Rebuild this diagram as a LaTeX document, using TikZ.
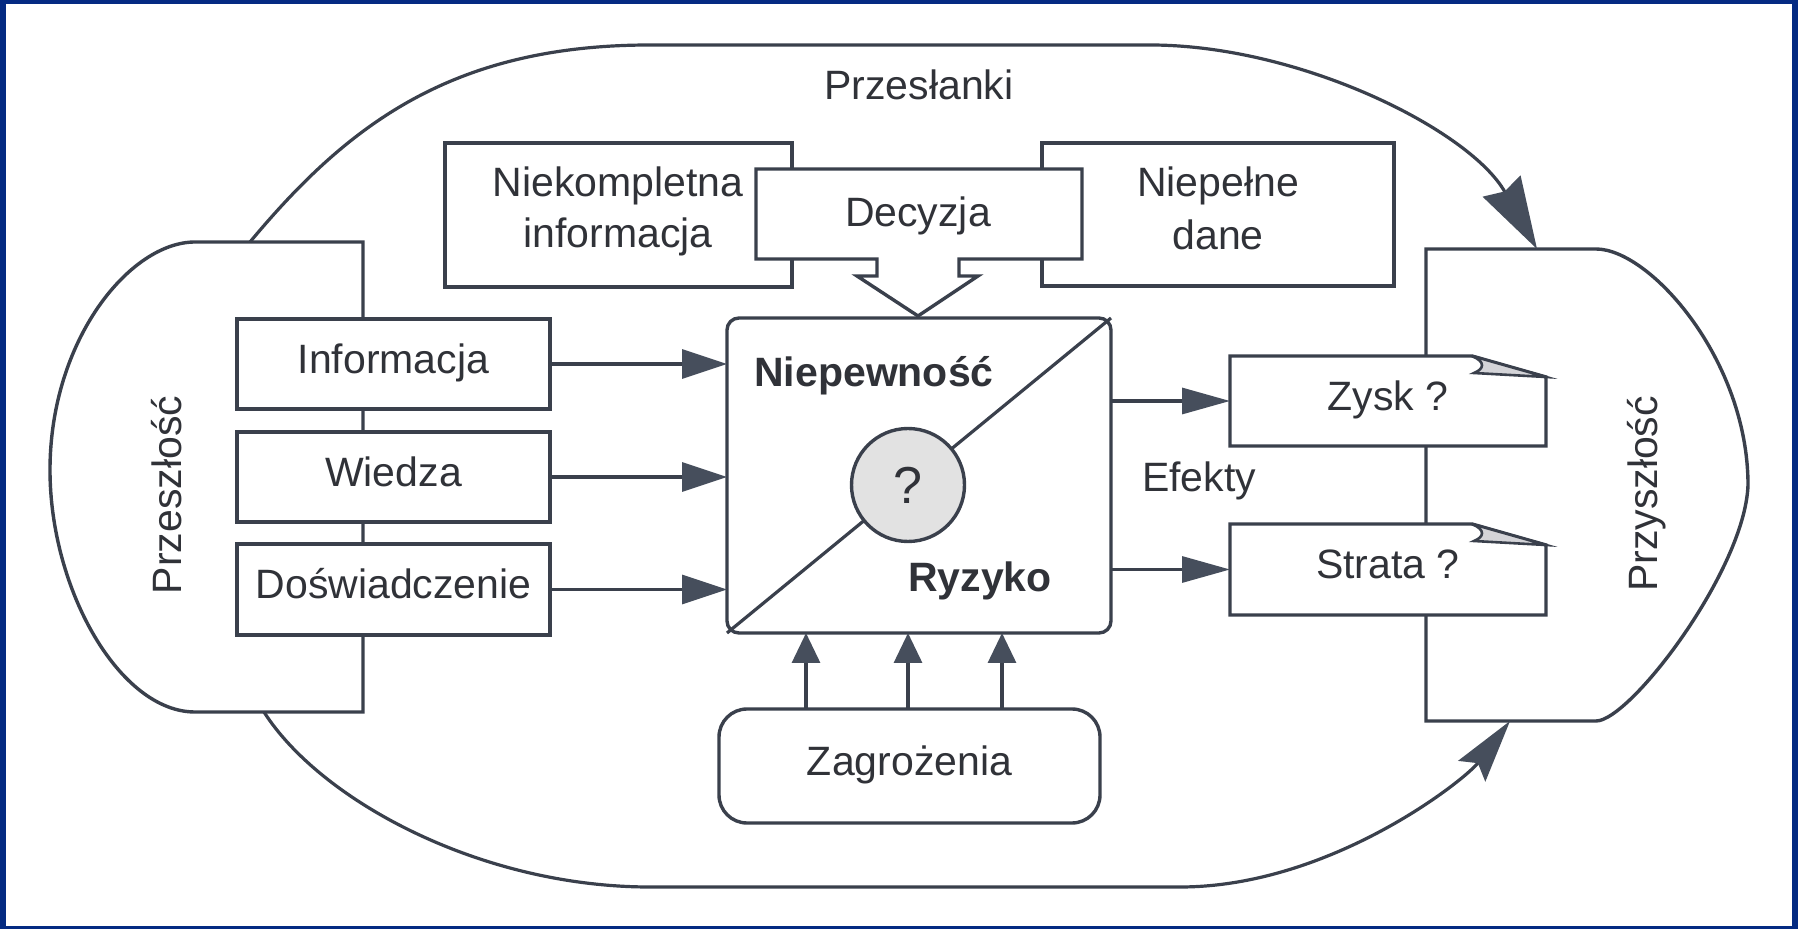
\documentclass[tikz,border=0pt]{standalone}
\usepackage{fontspec}
\setmainfont{Liberation Sans}
\usetikzlibrary{arrows.meta}
\definecolor{frameblue}{RGB}{4,42,130}
\definecolor{ln}{RGB}{58,64,76}
\definecolor{tipc}{RGB}{70,78,92}
\definecolor{txt}{RGB}{48,50,56}
\definecolor{qfill}{RGB}{226,226,226}
\definecolor{flapc}{RGB}{212,212,216}
\begin{document}
\begin{tikzpicture}[x=0.5pt, y=-0.5pt,
  font=\fontsize{20.5pt}{24pt}\selectfont, text=txt,
  box/.style={draw=ln, line width=1.7pt, fill=white, inner sep=0pt, outer sep=0pt},
  tb/.style={text height=14pt, text depth=4.5pt},
  lbl/.style={anchor=base, inner sep=0pt, outer sep=0pt},
  conn/.style={draw=ln, line width=1.6pt},
  outline/.style={draw=ln, line width=1.7pt},
  harr/.style={conn, -{Triangle[length=22.5pt, width=14.5pt, color=tipc]}},
  rarr/.style={conn, -{Triangle[length=24pt, width=13pt, color=tipc]}},
  varr/.style={conn, -{Triangle[length=15pt, width=14pt, color=tipc]}},
  loopT/.style={conn, -{Stealth[length=36pt, width=21.5pt, inset=3pt, color=tipc]}},
  loopB/.style={conn, -{Stealth[length=31.5pt, width=17pt, inset=5pt, color=tipc]}},
  boldtxt/.style={font=\fontsize{20.5pt}{24pt}\selectfont\bfseries}
]
\useasboundingbox (0,0) rectangle (1798,929);
\fill[frameblue] (0,0) rectangle (1798,929);
\fill[white] (6,4) rectangle (1792,926);

% Past and future shapes
\draw[outline] (363,242) -- (195,242) .. controls (130,242) and (50,340) .. (50,470) .. controls (50,590) and (120,712) .. (195,712) -- (363,712) -- cycle;
\draw[outline] (1426,249) -- (1596,249) .. controls (1650,249) and (1748,360) .. (1748,485) .. controls (1745,570) and (1630,721) .. (1596,721) -- (1426,721) -- cycle;

\coordinate (pastT) at (250,242);
\coordinate (pastB) at (264,712);
\coordinate (futT) at (1537,249);
\coordinate (futB) at (1510,721);

% Outer loop
\draw[loopT] (pastT) .. controls (346,127) and (450,45) .. (650,45) -- (1150,45) .. controls (1300,45) and (1470,130) .. (futT);
\draw[loopB] (pastB) .. controls (320,800) and (480,887) .. (650,887) -- (1180,887) .. controls (1330,887) and (1465,780) .. (futB);

\node[lbl] (przeslanki) at (919,100) {Przesłanki};
\node[lbl, rotate=90] (przeszlosc) at (181,495) {Przeszłość};
\node[lbl, rotate=90] (przyszlosc) at (1657,494) {Przyszłość};

% Top boxes
\node[box, minimum width=173.5pt, minimum height=72pt] (niekomp) at (618.5,215) {};
\node[lbl] (niekompA) at (618,197) {Niekompletna};
\node[lbl] (niekompB) at (618,248) {informacja};
\node[box, minimum width=176pt, minimum height=71.5pt] (niepel) at (1218,214.5) {};
\node[lbl] (niepelA) at (1218,197) {Niepełne};
\node[lbl] (niepelB) at (1218,250) {dane};
\draw[outline, fill=white] (756,169) -- (1082,169) -- (1082,259) -- (959,259) -- (959,276) -- (978,276) -- (918,316) -- (857,276) -- (877,276) -- (877,259) -- (756,259) -- cycle;
\node[lbl] (decyzja) at (918,227) {Decyzja};

% Left boxes
\node[box, tb, minimum width=156.5pt, minimum height=45pt] (info) at (393.5,364) {Informacja};
\node[box, tb, minimum width=156.5pt, minimum height=45pt] (wiedza) at (393.5,477) {Wiedza};
\node[box, tb, minimum width=156.5pt, minimum height=45.5pt] (dosw) at (393.5,589.5) {Doświadczenie};

% Central box
\node[box, rounded corners=6pt, minimum width=192pt, minimum height=157.5pt] (core) at (919,475.5) {};
\draw[conn] (core.south west) -- (core.north east);
\node[circle, draw=ln, line width=1.7pt, fill=qfill, minimum size=56.5pt, inner sep=0pt, font=\fontsize{26pt}{30pt}\selectfont] (q) at (908,485) {?};
\node[lbl, boldtxt] (niepewnosc) at (874,387) {Niepewność};
\node[lbl, boldtxt] (ryzyko) at (980,592) {Ryzyko};

\draw[harr] (info.east) -- (info.east -| core.west);
\draw[harr] (wiedza.east) -- (wiedza.east -| core.west);
\draw[harr] (dosw.east) -- (dosw.east -| core.west);

% Threats
\node[box, tb, rounded corners=14pt, minimum width=190.5pt, minimum height=57pt] (zagr) at (909.5,766) {Zagrożenia};
\draw[varr] (806,0 |- zagr.north) -- (806,0 |- core.south);
\draw[varr] (908,0 |- zagr.north) -- (908,0 |- core.south);
\draw[varr] (1002,0 |- zagr.north) -- (1002,0 |- core.south);

% Effects
\draw[outline, fill=white] (1230,356) -- (1472,356) -- (1546,377) -- (1546,446) -- (1230,446) -- cycle;
\filldraw[fill=flapc, draw=ln, line width=1.3pt] (1472,356) .. controls (1486,362) and (1484,369) .. (1474,373) -- (1546,377) -- cycle;
\node[tb, inner sep=0pt, outer sep=0pt, minimum width=158pt, minimum height=45pt] (zysk) at (1388,401) {Zysk ?};
\draw[outline, fill=white] (1230,524) -- (1472,524) -- (1546,545) -- (1546,615) -- (1230,615) -- cycle;
\filldraw[fill=flapc, draw=ln, line width=1.3pt] (1472,524) .. controls (1486,530) and (1484,537) .. (1474,541) -- (1546,545) -- cycle;
\node[tb, inner sep=0pt, outer sep=0pt, minimum width=158pt, minimum height=45.5pt] (strata) at (1388,569.5) {Strata ?};

\draw[rarr] (core.east |- zysk.west) -- (zysk.west);
\draw[rarr] (core.east |- strata.west) -- (strata.west);
\node[lbl] (efekty) at (1199,492) {Efekty};
\end{tikzpicture}
\end{document}
